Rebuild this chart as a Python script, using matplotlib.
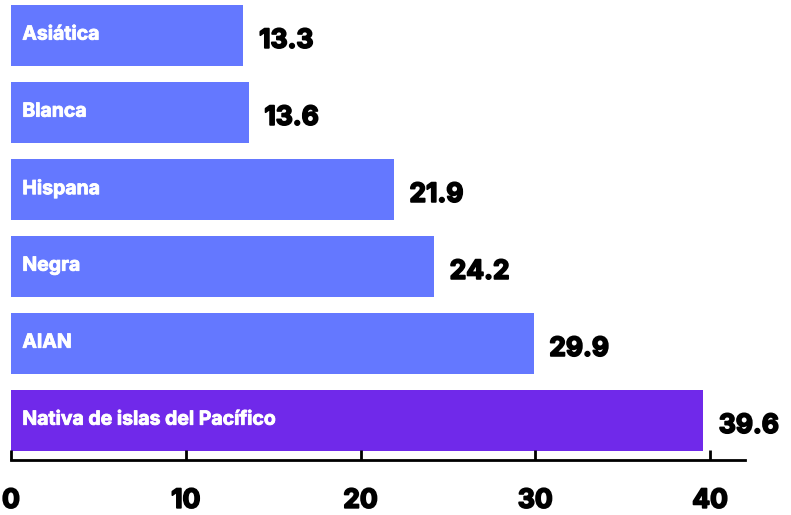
import matplotlib.pyplot as plt
import matplotlib.patheffects as pe

categories = ["Asiática", "Blanca", "Hispana", "Negra", "AIAN", "Nativa de islas del Pacífico"]
values = [13.3, 13.6, 21.9, 24.2, 29.9, 39.6]
value_labels = ["13.3", "13.6", "21.9", "24.2", "29.9", "39.6"]
xticks = [0, 10, 20, 30, 40]

blue = "#6478FF"
purple = "#7029EA"
colors = [blue] * 5 + [purple]

# thicken the bold font a bit, the original uses a very heavy face
heavy = [pe.withStroke(linewidth=1.3, foreground="black")]
heavy_w = [pe.withStroke(linewidth=0.6, foreground="white")]

fig = plt.figure(figsize=(7.91, 5.15), dpi=100)
ax = fig.add_axes([11 / 791, 55 / 515, 734 / 791, 460 / 515])

pos = list(range(len(categories)))
ax.barh(pos, values, height=0.79, color=colors)

for p, v, cat, lab in zip(pos, values, categories, value_labels):
    ax.text(0.65, p - 0.01, cat, color="white", fontsize=14, fontweight="bold",
            family="Inter", va="center", ha="left", path_effects=heavy_w)
    ax.text(v + 0.9, p + 0.07, lab, color="black", fontsize=19, fontweight="bold",
            family="Inter", va="center", ha="left", path_effects=heavy)

ax.set_xlim(0, 42.0)
ax.set_ylim(5.513, -0.46)
ax.set_xticks(xticks)
ax.set_xticklabels([str(t) for t in xticks], fontsize=19, fontweight="bold", family="Inter")
for t in ax.get_xticklabels():
    t.set_path_effects(heavy)
ax.tick_params(axis="x", direction="in", length=7, width=2, pad=20, color="black")
ax.set_yticks([])
for s in ["top", "right", "left"]:
    ax.spines[s].set_visible(False)
ax.spines["bottom"].set_linewidth(2)

fig.savefig("out.png", dpi=100)
